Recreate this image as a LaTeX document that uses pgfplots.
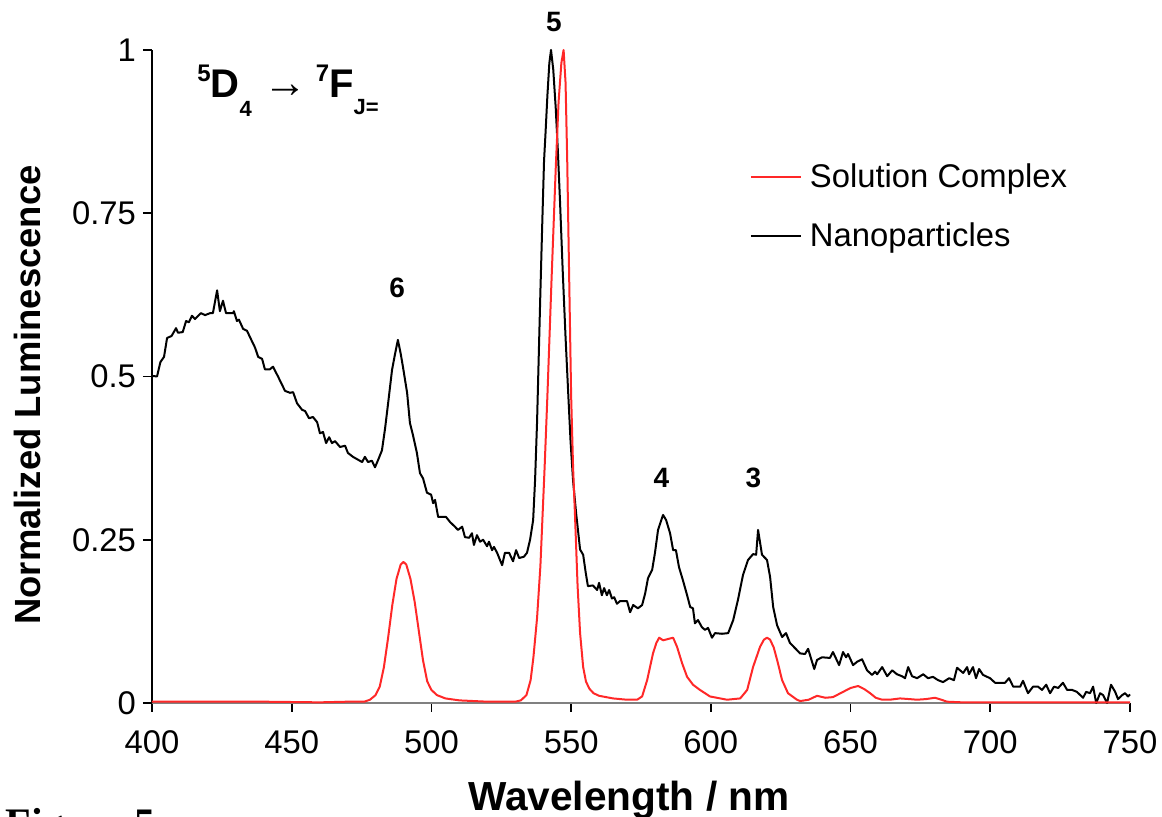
\documentclass[border=0pt]{standalone}
\usepackage{pgfplots}
\pgfplotsset{compat=1.18}
\usepackage{fontspec}
\setmainfont{Liberation Sans}
\newfontfamily\seriffont{Liberation Serif}
\definecolor{spred}{RGB}{255,40,40}

\pgfplotstableread{
x y
400 0.501
401.8 0.500
403 0.522
404.3 0.530
405.4 0.559
407 0.562
408.6 0.574
409.3 0.567
411 0.568
412.2 0.585
413.2 0.583
414.3 0.593
415.4 0.588
417.5 0.597
419 0.594
420.8 0.597
421.8 0.597
423.3 0.632
424.3 0.600
425.4 0.616
426.5 0.597
429 0.597
429.3 0.600
430.4 0.585
431.1 0.587
432.6 0.573
434 0.570
435.1 0.560
436.9 0.544
438 0.530
439.4 0.527
440.4 0.511
442.2 0.511
443.3 0.515
445.1 0.500
447.6 0.478
449.4 0.475
450.5 0.476
451.9 0.459
453.7 0.449
454.8 0.447
456.2 0.436
457.6 0.438
459.1 0.430
460.1 0.413
461.2 0.415
462.3 0.398
463.4 0.407
464.4 0.398
465.5 0.401
467.3 0.392
469.1 0.394
470.1 0.383
471.9 0.377
475.2 0.369
476.2 0.377
477.3 0.369
478.7 0.371
479.8 0.361
480.9 0.372
482.3 0.387
483.4 0.420
484.5 0.459
485.9 0.510
487.0 0.535
488.0 0.556
489.0 0.535
489.8 0.515
491.3 0.475
492.3 0.429
493.4 0.410
494.8 0.383
495.9 0.352
497.0 0.344
498.4 0.322
499.9 0.319
500.6 0.306
501.3 0.311
502.4 0.285
503.8 0.285
505.2 0.285
506.7 0.277
508.4 0.270
509.5 0.265
511.0 0.270
512.0 0.254
513.5 0.253
514.5 0.260
515.2 0.242
516.3 0.257
517.4 0.247
518.5 0.250
519.9 0.240
520.6 0.247
521.7 0.234
522.4 0.239
523.5 0.230
525.3 0.211
526.3 0.230
527.8 0.230
529.2 0.217
530.3 0.234
531.4 0.222
533.1 0.224
534.2 0.230
535.3 0.250
536.4 0.280
537.1 0.342
537.8 0.430
538.4 0.530
539.0 0.630
539.7 0.740
540.3 0.830
540.8 0.870
541.5 0.930
542.2 0.980
542.8 1.000
543.6 0.970
544.5 0.910
545.2 0.850
546.0 0.770
547.0 0.660
548.0 0.560
549.0 0.470
549.8 0.400
550.7 0.340
551.8 0.290
553.2 0.235
554.3 0.227
555.2 0.200
556.0 0.179
557.8 0.180
559.3 0.173
560.0 0.184
561.0 0.165
561.8 0.176
562.8 0.165
563.6 0.173
564.6 0.160
565.4 0.162
566.4 0.152
567.5 0.156
570.0 0.156
571.1 0.139
572.2 0.150
573.9 0.145
575.4 0.150
576.5 0.168
577.5 0.191
579.0 0.204
580.0 0.230
581.1 0.265
582.5 0.283
582.9 0.288
584.0 0.280
585.4 0.260
586.5 0.234
587.5 0.234
588.6 0.208
590.0 0.188
591.5 0.165
592.6 0.147
593.6 0.145
594.3 0.122
595.4 0.127
596.8 0.116
597.9 0.112
599.0 0.115
600.4 0.100
601.5 0.107
604.0 0.106
606.2 0.107
608.0 0.127
609.7 0.158
611.5 0.196
613.3 0.219
615.1 0.228
616.2 0.227
616.9 0.265
618.3 0.227
620.1 0.219
621.2 0.193
622.3 0.147
623.7 0.119
625.5 0.101
626.9 0.107
628.3 0.092
630.8 0.081
631.9 0.076
633.7 0.075
634.8 0.083
637.0 0.052
638.0 0.066
639.8 0.070
642.6 0.069
643.7 0.078
645.9 0.058
647.3 0.078
648.4 0.070
649.1 0.075
650.9 0.058
652.3 0.063
654.1 0.067
655.9 0.050
657.7 0.043
658.8 0.048
659.5 0.044
661.3 0.055
663.1 0.041
664.9 0.050
666.6 0.044
668.4 0.041
669.5 0.038
670.6 0.055
672.0 0.041
673.8 0.038
676.0 0.044
677.7 0.038
679.5 0.040
681.3 0.035
683.1 0.032
685.3 0.038
687.0 0.035
688.1 0.054
689.2 0.050
690.3 0.046
691.7 0.055
692.4 0.044
693.8 0.055
694.9 0.038
696.0 0.052
697.4 0.043
699.9 0.038
701.7 0.031
703.5 0.031
705.3 0.031
706.7 0.038
708.2 0.025
710.7 0.025
711.7 0.034
713.5 0.015
715.3 0.025
717.1 0.025
718.5 0.020
720.0 0.028
721.4 0.015
722.8 0.025
724.3 0.023
726.0 0.031
727.5 0.020
729.3 0.020
731.0 0.017
733.2 0.008
734.3 0.017
735.7 0.015
736.8 0.025
737.9 0.000
739.3 0.015
740.4 0.012
741.8 0.000
743.2 0.028
744.7 0.017
745.7 0.006
747.2 0.012
748.2 0.015
749.3 0.010
750.0 0.013
}\nano

\pgfplotstableread{
x y
400 0.002
420 0.002
440 0.002
460 0.001
470 0.002
476 0.002
478 0.005
480 0.012
481.5 0.025
483 0.055
484.5 0.100
486 0.150
487.5 0.190
489 0.212
490 0.216
491 0.212
492.5 0.190
494 0.155
495.5 0.110
497 0.065
498.5 0.033
500 0.020
502 0.012
505 0.007
510 0.004
520 0.002
530 0.002
532 0.004
534 0.012
535.5 0.035
536.5 0.070
537.8 0.130
539 0.210
540.5 0.360
541.5 0.470
543 0.650
544.5 0.820
545.5 0.920
546.5 0.980
547.3 1.000
548 0.950
548.6 0.830
549.3 0.650
550 0.470
550.7 0.360
551.4 0.285
552.3 0.180
553.2 0.107
554.3 0.055
555.3 0.033
556.5 0.022
558 0.015
560 0.011
565 0.007
570 0.005
573.6 0.005
575.4 0.010
577.2 0.035
579.3 0.076
580.5 0.092
581.5 0.100
582.9 0.096
584.7 0.098
586.5 0.100
587.9 0.086
589.7 0.061
591.5 0.040
593.6 0.028
596.1 0.020
599.7 0.010
605.8 0.005
610.5 0.007
613 0.020
615.1 0.055
617.6 0.086
619 0.097
620.1 0.100
621.2 0.097
622.5 0.085
623.7 0.066
625.5 0.035
627.6 0.015
630.8 0.005
632 0.003
635 0.005
638 0.011
641 0.008
643.7 0.009
647.3 0.017
650 0.023
652.7 0.026
655 0.021
657 0.015
659 0.008
661.3 0.005
664 0.005
667.7 0.007
671 0.006
673.8 0.005
677 0.006
680.2 0.008
682.5 0.005
684.5 0.002
690 0.001
700 0.001
720 0.001
750 0.001
}\sol

\begin{document}
\begin{tikzpicture}
\path[use as bounding box] (-76pt,-57pt) rectangle (505pt,351.5pt);
\begin{axis}[
  at={(0pt,0pt)}, anchor=south west,
  scale only axis, width=489pt, height=326.5pt,
  xmin=400, xmax=750, ymin=0, ymax=1,
  axis x line=bottom, axis y line=left,
  x axis line style={-, draw=gray, line width=0.8pt},
  y axis line style={-, draw=black, line width=0.8pt},
  xtick={400,450,...,750},
  ytick={0,0.25,0.5,0.75,1},
  yticklabels={0,0.25,0.5,0.75,1},
  tick align=outside,
  major tick length=4.5pt,
  tick style={black, line width=0.8pt},
  /pgf/number format/assume math mode=true,
  tick label style={font=\fontsize{16.4}{19}\selectfont},
  xticklabel style={yshift=-6pt},
  xlabel={\textbf{Wavelength / nm}},
  ylabel={\textbf{Normalized Luminescence}},
  xlabel style={font=\fontsize{20.3}{23}\selectfont, at={(axis description cs:0.4877,-0.1486)}, anchor=center},
  ylabel style={font=\fontsize{18.2}{21}\selectfont, at={(axis description cs:-0.1268,0.4717)}, anchor=center, rotate=0},
  clip=false,
  legend style={at={(axis description cs:0.611,0.832)}, anchor=north west,
    draw=none, fill=none, inner sep=0pt, row sep=12pt, column sep=2pt,
    font=\fontsize{16.4}{19}\selectfont,
    nodes={inner sep=2pt}},
  legend cell align=left,
  legend image code/.code={\draw[#1] (0pt,0pt) -- (25pt,0pt);},
]
\addlegendimage{draw=spred, line width=1pt}
\addlegendentry{Solution Complex}
\addlegendimage{draw=black, line width=1pt}
\addlegendentry{Nanoparticles}
\addplot[black, line width=1pt, line join=round, forget plot] table[x=x,y=y] {\nano};
\addplot[spred, line width=1pt, line join=round, forget plot] table[x=x,y=y] {\sol};

\node[font=\bfseries\fontsize{14}{16}\selectfont] at (axis cs:487.7,0.636) {6};
\node[font=\bfseries\fontsize{14}{16}\selectfont] at (axis cs:543.8,1.043) {5};
\node[font=\bfseries\fontsize{14}{16}\selectfont] at (axis cs:582.3,0.344) {4};
\node[font=\bfseries\fontsize{14}{16}\selectfont] at (axis cs:615.2,0.344) {3};
\node[anchor=base west, inner sep=0pt] at (axis cs:416.1,0.9265)
 {\fontsize{20}{24}\selectfont\bfseries\raisebox{8pt}{\fontsize{12}{12}\selectfont 5}D\raisebox{-9.5pt}{\fontsize{11}{11}\selectfont 4}\hspace{6pt}\raisebox{0pt}{\mdseries\fontsize{22}{22}\selectfont →}\hspace{4pt}\raisebox{8pt}{\fontsize{12}{12}\selectfont 7}F\raisebox{-8.5pt}{\fontsize{11}{11}\selectfont J=}};
\end{axis}
\node[anchor=north west, inner sep=0pt, font=\seriffont\bfseries\fontsize{21}{24}\selectfont] at (-73.5pt,-52.5pt) {Figure 5};
\end{tikzpicture}
\end{document}
